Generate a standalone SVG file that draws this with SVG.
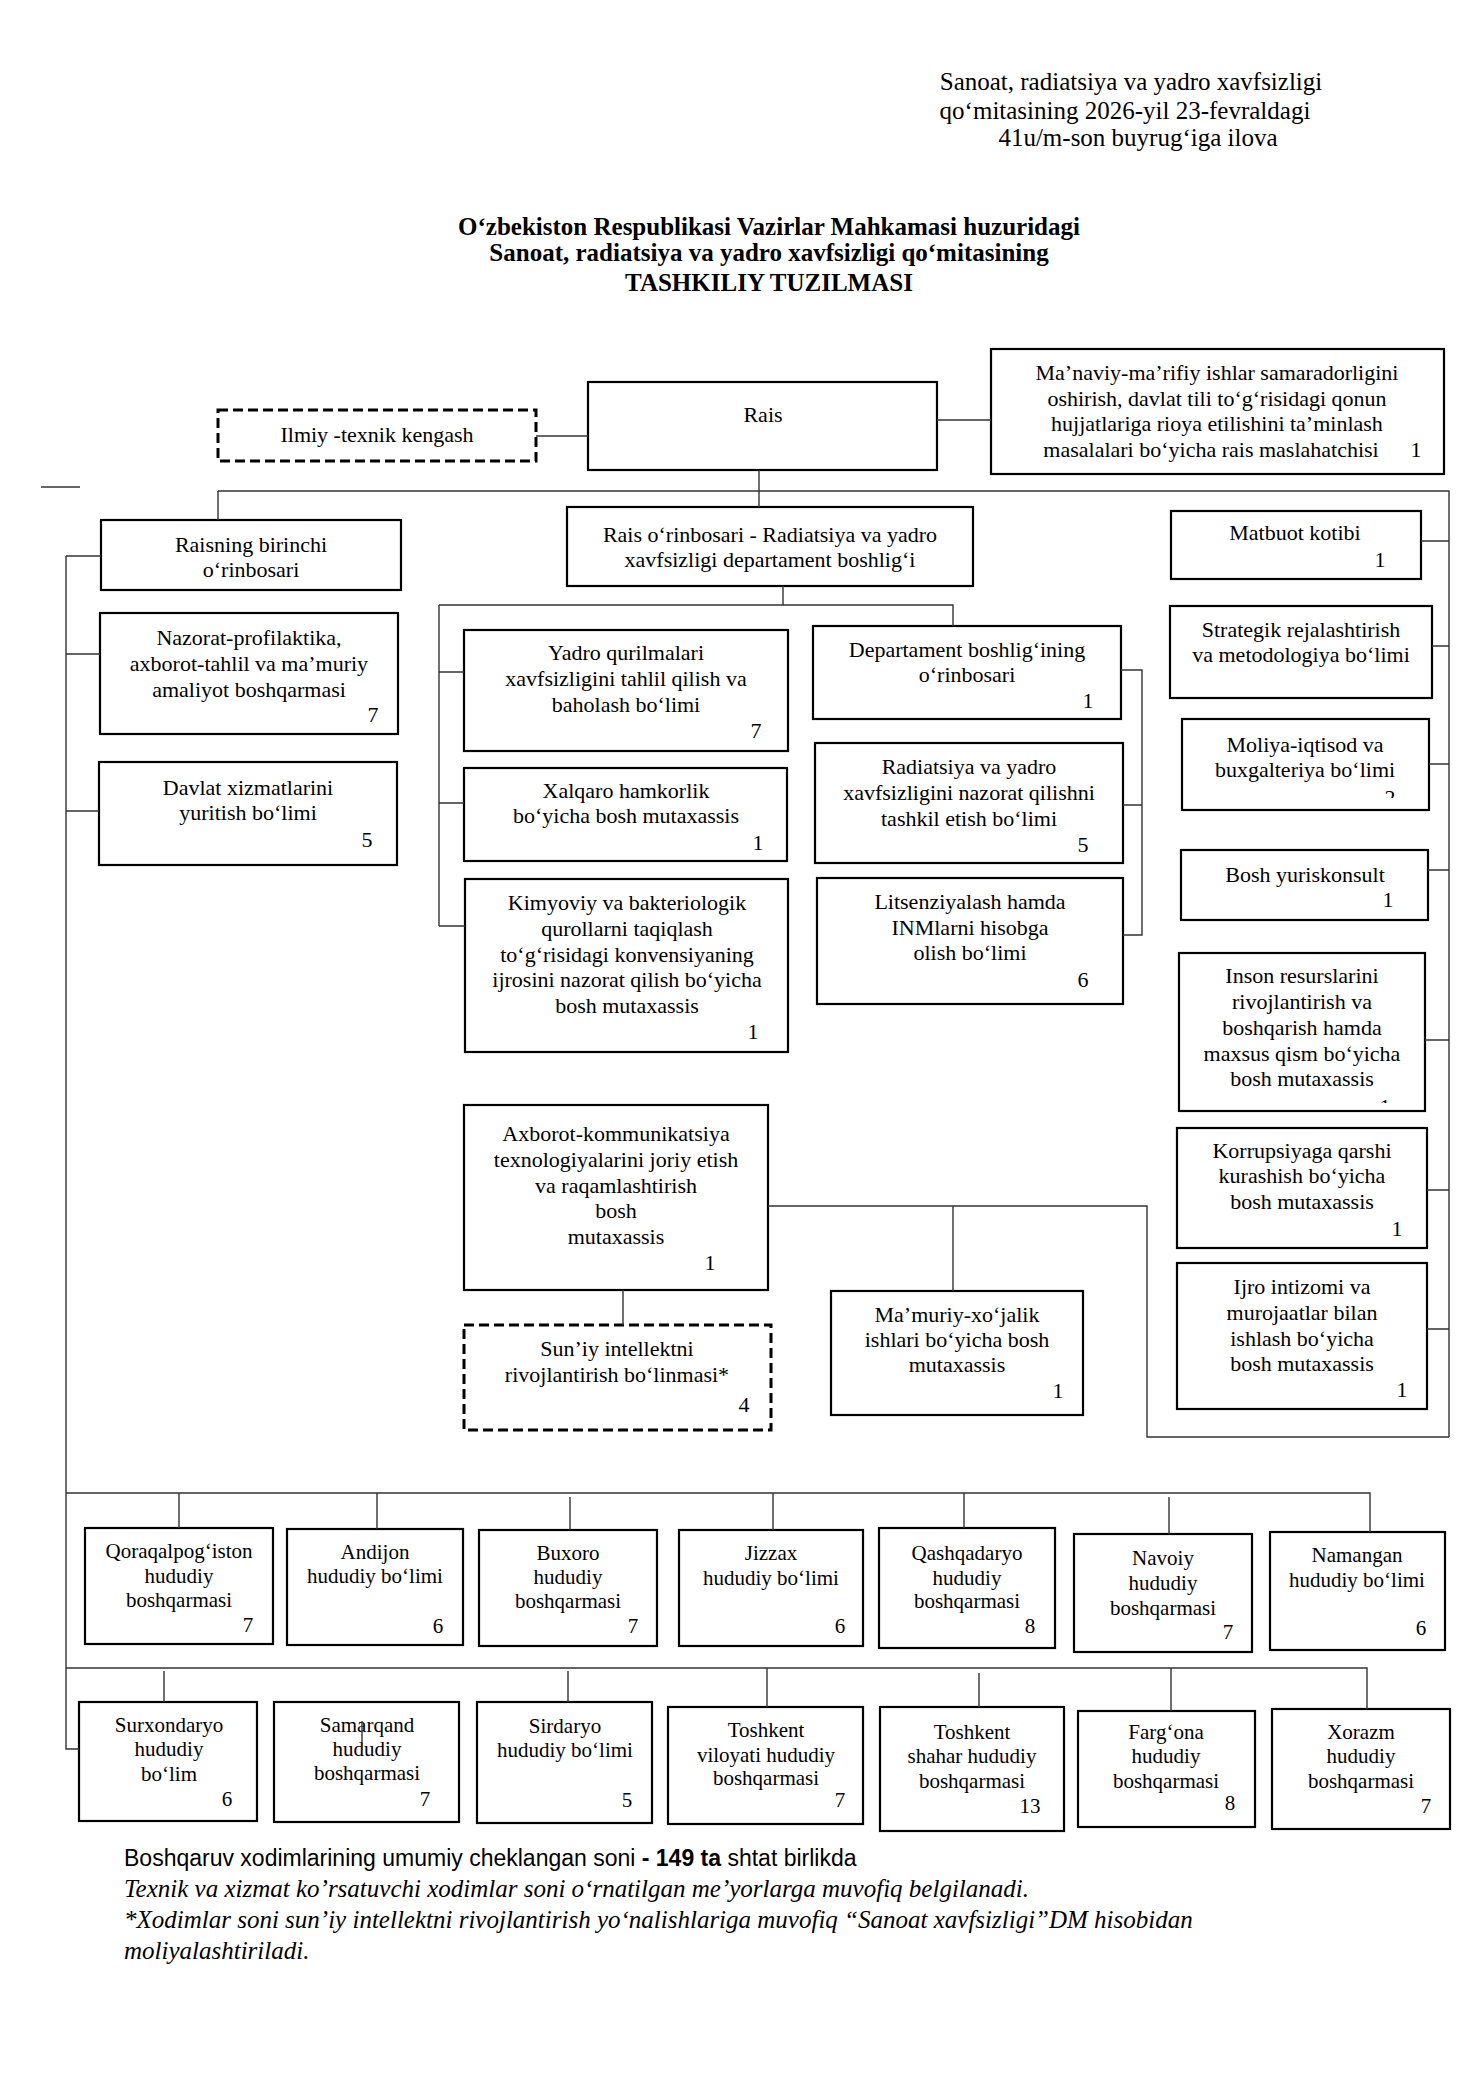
<svg xmlns="http://www.w3.org/2000/svg" width="1484" height="2100" viewBox="0 0 1484 2100">
<style>
.bg{fill:#fff}
.box{fill:#fff;stroke:#000;stroke-width:2.2}
.dash{fill:#fff;stroke:#000;stroke-width:3;stroke-dasharray:10 5}
text{font-family:"Liberation Serif","Times New Roman",serif;fill:#000}
.t{font-size:22px;text-anchor:middle}
.r{font-size:21px;text-anchor:middle}
.hd{font-size:25px;text-anchor:middle}
.ti{font-size:25px;font-weight:bold;text-anchor:middle}
.fs{font-family:"Liberation Sans",Arial,sans-serif;font-size:23px}
.fi{font-size:25px;font-style:italic}
.ln{fill:none;stroke:#333;stroke-width:1.4}
</style>
<defs>
<clipPath id="cMol"><rect x="1182" y="719" width="247" height="79"/></clipPath>
<clipPath id="cIns"><rect x="1179" y="953" width="246" height="150"/></clipPath>
</defs>
<rect class="bg" x="0" y="0" width="1484" height="2100"/>

<g id="header">
<text class="hd" x="1131" y="90">Sanoat, radiatsiya va yadro xavfsizligi</text>
<text class="hd" x="1125" y="119">qo‘mitasining 2026-yil 23-fevraldagi</text>
<text class="hd" x="1138" y="146">41u/m-son buyrug‘iga ilova</text>
</g>
<g id="title">
<text class="ti" x="769" y="235">O‘zbekiston Respublikasi Vazirlar Mahkamasi huzuridagi</text>
<text class="ti" x="769" y="261">Sanoat, radiatsiya va yadro xavfsizligi qo‘mitasining</text>
<text class="ti" x="769" y="291">TASHKILIY TUZILMASI</text>
</g>

<g id="n-ilmiy"><rect class="dash" x="218" y="410" width="318" height="51"/><text class="t" x="377" y="442">Ilmiy -texnik kengash</text></g>
<g id="n-rais"><rect class="box" x="588" y="382" width="349" height="88"/><text class="t" x="763" y="422">Rais</text></g>
<g id="n-manaviy"><rect class="box" x="991" y="349" width="453" height="125"/>
<text class="t" x="1217" y="380">Ma’naviy-ma’rifiy ishlar samaradorligini</text>
<text class="t" x="1217" y="406">oshirish, davlat tili to‘g‘risidagi qonun</text>
<text class="t" x="1217" y="431">hujjatlariga rioya etilishini ta’minlash</text>
<text class="t" x="1211" y="457">masalalari bo‘yicha rais maslahatchisi</text>
<text class="t" x="1416" y="457">1</text></g>
<g id="n-birinchi"><rect class="box" x="101" y="520" width="300" height="70"/>
<text class="t" x="251" y="552">Raisning birinchi</text><text class="t" x="251" y="577">o‘rinbosari</text></g>
<g id="n-orinbosar"><rect class="box" x="567" y="507" width="406" height="79"/>
<text class="t" x="770" y="542">Rais o‘rinbosari - Radiatsiya va yadro</text><text class="t" x="770" y="567">xavfsizligi departament boshlig‘i</text></g>
<g id="n-matbuot"><rect class="box" x="1171" y="511" width="250" height="68"/>
<text class="t" x="1295" y="540">Matbuot kotibi</text><text class="t" x="1380" y="567">1</text></g>
<g id="n-nazorat"><rect class="box" x="100" y="613" width="298" height="121"/>
<text class="t" x="249" y="645">Nazorat-profilaktika,</text><text class="t" x="249" y="671">axborot-tahlil va ma’muriy</text><text class="t" x="249" y="697">amaliyot boshqarmasi</text><text class="t" x="373" y="722">7</text></g>
<g id="n-davlat"><rect class="box" x="99" y="762" width="298" height="103"/>
<text class="t" x="248" y="795">Davlat xizmatlarini</text><text class="t" x="248" y="820">yuritish bo‘limi</text><text class="t" x="367" y="847">5</text></g>
<g id="n-yadro"><rect class="box" x="464" y="630" width="324" height="121"/>
<text class="t" x="626" y="660">Yadro qurilmalari</text><text class="t" x="626" y="686">xavfsizligini tahlil qilish va</text><text class="t" x="626" y="712">baholash bo‘limi</text><text class="t" x="756" y="738">7</text></g>
<g id="n-xalqaro"><rect class="box" x="464" y="768" width="323" height="93"/>
<text class="t" x="626" y="798">Xalqaro hamkorlik</text><text class="t" x="626" y="823">bo‘yicha bosh mutaxassis</text><text class="t" x="758" y="850">1</text></g>
<g id="n-kimyoviy"><rect class="box" x="465" y="879" width="323" height="173"/>
<text class="t" x="627" y="910">Kimyoviy va bakteriologik</text><text class="t" x="627" y="936">qurollarni taqiqlash</text><text class="t" x="627" y="962">to‘g‘risidagi konvensiyaning</text><text class="t" x="627" y="987">ijrosini nazorat qilish bo‘yicha</text><text class="t" x="627" y="1013">bosh mutaxassis</text><text class="t" x="753" y="1039">1</text></g>
<g id="n-dept"><rect class="box" x="813" y="626" width="308" height="93"/>
<text class="t" x="967" y="657">Departament boshlig‘ining</text><text class="t" x="967" y="682">o‘rinbosari</text><text class="t" x="1088" y="708">1</text></g>
<g id="n-radiatsiya"><rect class="box" x="815" y="743" width="308" height="120"/>
<text class="t" x="969" y="774">Radiatsiya va yadro</text><text class="t" x="969" y="800">xavfsizligini nazorat qilishni</text><text class="t" x="969" y="826">tashkil etish bo‘limi</text><text class="t" x="1083" y="852">5</text></g>
<g id="n-litsenziya"><rect class="box" x="817" y="878" width="306" height="126"/>
<text class="t" x="970" y="909">Litsenziyalash hamda</text><text class="t" x="970" y="935">INMlarni hisobga</text><text class="t" x="970" y="960">olish bo‘limi</text><text class="t" x="1083" y="987">6</text></g>
<g id="n-strategik"><rect class="box" x="1170" y="606" width="262" height="92"/>
<text class="t" x="1301" y="637">Strategik rejalashtirish</text><text class="t" x="1301" y="662">va metodologiya bo‘limi</text></g>
<g id="n-moliya"><rect class="box" x="1182" y="719" width="247" height="91"/>
<text class="t" x="1305" y="752">Moliya-iqtisod va</text><text class="t" x="1305" y="777">buxgalteriya bo‘limi</text><text class="t" x="1390" y="805" clip-path="url(#cMol)">2</text></g>
<g id="n-yurist"><rect class="box" x="1181" y="850" width="247" height="70"/>
<text class="t" x="1305" y="882">Bosh yuriskonsult</text><text class="t" x="1388" y="907">1</text></g>
<g id="n-inson"><rect class="box" x="1179" y="953" width="246" height="158"/>
<text class="t" x="1302" y="983">Inson resurslarini</text><text class="t" x="1302" y="1009">rivojlantirish va</text><text class="t" x="1302" y="1035">boshqarish hamda</text><text class="t" x="1302" y="1061">maxsus qism bo‘yicha</text><text class="t" x="1302" y="1086">bosh mutaxassis</text><text class="t" x="1385" y="1114" clip-path="url(#cIns)">1</text></g>
<g id="n-korrupsiya"><rect class="box" x="1177" y="1128" width="250" height="120"/>
<text class="t" x="1302" y="1158">Korrupsiyaga qarshi</text><text class="t" x="1302" y="1183">kurashish bo‘yicha</text><text class="t" x="1302" y="1209">bosh mutaxassis</text><text class="t" x="1397" y="1236">1</text></g>
<g id="n-ijro"><rect class="box" x="1177" y="1263" width="250" height="146"/>
<text class="t" x="1302" y="1294">Ijro intizomi va</text><text class="t" x="1302" y="1320">murojaatlar bilan</text><text class="t" x="1302" y="1346">ishlash bo‘yicha</text><text class="t" x="1302" y="1371">bosh mutaxassis</text><text class="t" x="1402" y="1397">1</text></g>
<g id="n-axborot"><rect class="box" x="464" y="1105" width="304" height="185"/>
<text class="t" x="616" y="1141">Axborot-kommunikatsiya</text><text class="t" x="616" y="1167">texnologiyalarini joriy etish</text><text class="t" x="616" y="1193">va raqamlashtirish</text><text class="t" x="616" y="1218">bosh</text><text class="t" x="616" y="1244">mutaxassis</text><text class="t" x="710" y="1270">1</text></g>
<g id="n-suniy"><rect class="dash" x="464" y="1325" width="307" height="105"/>
<text class="t" x="617" y="1356">Sun’iy intellektni</text><text class="t" x="617" y="1382">rivojlantirish bo‘linmasi*</text><text class="t" x="744" y="1412">4</text></g>
<g id="n-mamuriy"><rect class="box" x="831" y="1291" width="252" height="124"/>
<text class="t" x="957" y="1322">Ma’muriy-xo‘jalik</text><text class="t" x="957" y="1347">ishlari bo‘yicha bosh</text><text class="t" x="957" y="1372">mutaxassis</text><text class="t" x="1058" y="1398">1</text></g>

<g id="n-qoraqalpog"><rect class="box" x="85" y="1528" width="188" height="116"/>
<text class="r" x="179" y="1558">Qoraqalpog‘iston</text><text class="r" x="179" y="1583">hududiy</text><text class="r" x="179" y="1607">boshqarmasi</text><text class="r" x="248" y="1632">7</text></g>
<g id="n-andijon"><rect class="box" x="287" y="1529" width="176" height="116"/>
<text class="r" x="375" y="1559">Andijon</text><text class="r" x="375" y="1583">hududiy bo‘limi</text><text class="r" x="438" y="1633">6</text></g>
<g id="n-buxoro"><rect class="box" x="479" y="1530" width="178" height="116"/>
<text class="r" x="568" y="1560">Buxoro</text><text class="r" x="568" y="1584">hududiy</text><text class="r" x="568" y="1608">boshqarmasi</text><text class="r" x="633" y="1633">7</text></g>
<g id="n-jizzax"><rect class="box" x="679" y="1530" width="184" height="116"/>
<text class="r" x="771" y="1560">Jizzax</text><text class="r" x="771" y="1585">hududiy bo‘limi</text><text class="r" x="840" y="1633">6</text></g>
<g id="n-qashqadaryo"><rect class="box" x="879" y="1528" width="176" height="120"/>
<text class="r" x="967" y="1560">Qashqadaryo</text><text class="r" x="967" y="1585">hududiy</text><text class="r" x="967" y="1608">boshqarmasi</text><text class="r" x="1030" y="1633">8</text></g>
<g id="n-navoiy"><rect class="box" x="1074" y="1534" width="178" height="118"/>
<text class="r" x="1163" y="1565">Navoiy</text><text class="r" x="1163" y="1590">hududiy</text><text class="r" x="1163" y="1615">boshqarmasi</text><text class="r" x="1228" y="1639">7</text></g>
<g id="n-namangan"><rect class="box" x="1270" y="1532" width="175" height="118"/>
<text class="r" x="1357" y="1562">Namangan</text><text class="r" x="1357" y="1587">hududiy bo‘limi</text><text class="r" x="1421" y="1635">6</text></g>

<g id="n-surxondaryo"><rect class="box" x="79" y="1702" width="178" height="119"/>
<text class="r" x="169" y="1732">Surxondaryo</text><text class="r" x="169" y="1756">hududiy</text><text class="r" x="169" y="1781">bo‘lim</text><text class="r" x="227" y="1806">6</text></g>
<g id="n-samarqand"><rect class="box" x="274" y="1702" width="185" height="120"/>
<text class="r" x="367" y="1732">Samarqand</text><text class="r" x="367" y="1756">hududiy</text><text class="r" x="367" y="1780">boshqarmasi</text><text class="r" x="425" y="1806">7</text></g>
<g id="n-sirdaryo"><rect class="box" x="477" y="1702" width="175" height="121"/>
<text class="r" x="565" y="1733">Sirdaryo</text><text class="r" x="565" y="1757">hududiy bo‘limi</text><text class="r" x="627" y="1807">5</text></g>
<g id="n-toshvil"><rect class="box" x="668" y="1707" width="195" height="117"/>
<text class="r" x="766" y="1737">Toshkent</text><text class="r" x="766" y="1762">viloyati hududiy</text><text class="r" x="766" y="1785">boshqarmasi</text><text class="r" x="840" y="1807">7</text></g>
<g id="n-toshshahar"><rect class="box" x="880" y="1707" width="184" height="124"/>
<text class="r" x="972" y="1739">Toshkent</text><text class="r" x="972" y="1763">shahar hududiy</text><text class="r" x="972" y="1788">boshqarmasi</text><text class="r" x="1030" y="1813">13</text></g>
<g id="n-fargona"><rect class="box" x="1078" y="1711" width="177" height="116"/>
<text class="r" x="1166" y="1739">Farg‘ona</text><text class="r" x="1166" y="1763">hududiy</text><text class="r" x="1166" y="1788">boshqarmasi</text><text class="r" x="1230" y="1810">8</text></g>
<g id="n-xorazm"><rect class="box" x="1272" y="1709" width="178" height="120"/>
<text class="r" x="1361" y="1739">Xorazm</text><text class="r" x="1361" y="1763">hududiy</text><text class="r" x="1361" y="1788">boshqarmasi</text><text class="r" x="1426" y="1813">7</text></g>

<g id="connectors" class="ln">
<path d="M536 436H588"/>
<path d="M937 420H991"/>
<path d="M759 470V507"/>
<path d="M218 491H1449V1437"/>
<path d="M218 491V520"/>
<path d="M41 487H80"/>
<path d="M66 556V1749H79"/>
<path d="M66 556H101M66 654H100M66 811H99"/>
<path d="M783 586V605"/>
<path d="M439 605H953V626"/>
<path d="M439 605V926"/>
<path d="M439 672H464M439 803H464M439 926H465"/>
<path d="M1121 670H1142V935H1123M1123 805H1142"/>
<path d="M1421 541H1449M1432 646H1449M1429 764H1449M1428 870H1449M1425 1040H1449M1427 1190H1449M1427 1329H1449"/>
<path d="M768 1206H1147V1437H1449"/>
<path d="M953 1206V1291"/>
<path d="M623 1290V1325"/>
<path d="M66 1493H1370V1532"/>
<path d="M179 1493V1528M377 1493V1529M570 1497V1530M773 1493V1530M964 1493V1528M1169 1497V1534"/>
<path d="M66 1668H1367V1709"/>
<path d="M164 1671V1702M568 1671V1702M767 1668V1707M979 1673V1707M1171 1668V1711"/>
<path d="M362 1721V1750"/>
</g>

<g id="footer">
<text class="fs" x="124" y="1866">Boshqaruv xodimlarining umumiy cheklangan soni <tspan font-weight="bold">- 149 ta</tspan> shtat birlikda</text>
<text class="fi" x="124" y="1897">Texnik va xizmat ko’rsatuvchi xodimlar soni o‘rnatilgan me’yorlarga muvofiq belgilanadi.</text>
<text class="fi" x="124" y="1928">*Xodimlar soni sun’iy intellektni rivojlantirish yo‘nalishlariga muvofiq “Sanoat xavfsizligi”DM hisobidan</text>
<text class="fi" x="124" y="1959">moliyalashtiriladi.</text>
</g>
</svg>
